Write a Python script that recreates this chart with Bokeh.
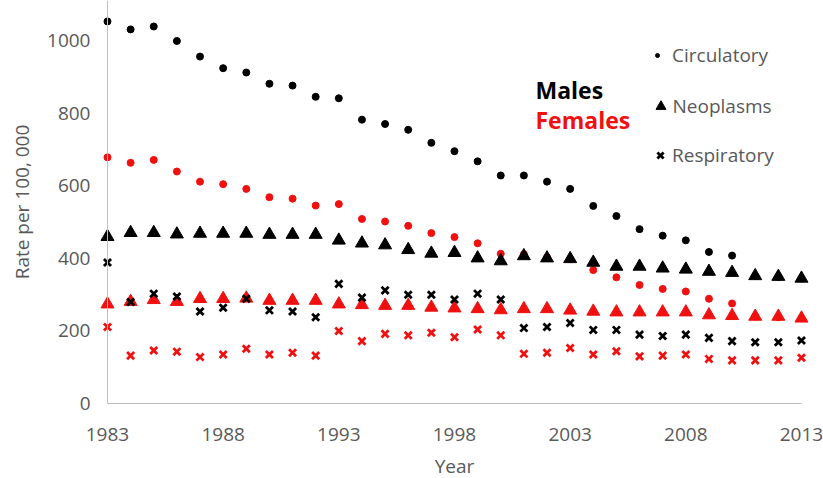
from bokeh.plotting import figure
from bokeh.models import Range1d, FixedTicker, Label, Legend, LegendItem
from bokeh.embed import file_html
from bokeh.resources import INLINE

years = list(range(1983, 2014))

circ_m = [1054, 1032, 1040, 1000, 957, 925, 913, 882, 877, 846, 842,
          783, 771, 755, 719, 696, 668, 629, 629, 612, 592,
          545, 517, 481, 463, 450, 418, 408, 352, 349, 345]
circ_f = [679, 664, 672, 640, 612, 605, 592, 569, 565, 546, 550,
          509, 502, 490, 470, 459, 442, 413, 412, 403, 398,
          368, 348, 327, 316, 309, 289, 276, 240, 238, 235]
neo_m = [460, 471, 471, 467, 469, 469, 469, 466, 466, 466, 450,
         442, 437, 424, 414, 416, 401, 393, 407, 401, 399,
         389, 378, 378, 373, 370, 364, 361, 352, 350, 345]
neo_f = [274, 281, 286, 281, 289, 289, 290, 284, 284, 284, 274,
         272, 270, 270, 265, 263, 261, 258, 261, 261, 257,
         254, 252, 252, 252, 252, 244, 242, 240, 240, 235]
resp_m = [389, 280, 303, 295, 254, 264, 289, 257, 254, 238, 330,
          292, 312, 300, 300, 287, 303, 287, 208, 211, 222,
          203, 203, 190, 186, 190, 181, 172, 169, 169, 174]
resp_f = [211, 132, 146, 143, 128, 135, 151, 135, 140, 132, 200,
          172, 192, 188, 195, 183, 204, 188, 137, 140, 153,
          135, 144, 130, 132, 135, 123, 119, 119, 119, 126]

x_ticks = [1983, 1988, 1993, 1998, 2003, 2008, 2013]
y_ticks = [0, 200, 400, 600, 800, 1000]

BLACK = "#000000"
RED = "#f01010"
GRAY = "#595959"
AXIS_GRAY = "#bfbfbf"
FONT = "Open Sans"

p = figure(width=823, height=478, output_backend="svg", toolbar_location=None,
           x_range=Range1d(1978.375, 2013.952), y_range=Range1d(-206.9, 1111.7),
           min_border_left=0, min_border_right=0, min_border_top=0,
           min_border_bottom=0)
p.outline_line_color = None
p.grid.visible = False
p.background_fill_color = "white"

# x axis fixed at y = 0
xa = p.xaxis[0]
xa.fixed_location = 0
xa.ticker = FixedTicker(ticks=x_ticks)
xa.bounds = (1983, 2013)
xa.axis_line_color = AXIS_GRAY
xa.major_tick_line_color = None
xa.minor_tick_line_color = None
xa.major_tick_out = 0
xa.major_tick_in = 0
xa.minor_tick_out = 0
xa.major_label_text_font = FONT
xa.major_label_text_font_size = "19px"
xa.major_label_text_color = GRAY
xa.major_label_standoff = 25

# y axis fixed at x = 1983
ya = p.yaxis[0]
ya.fixed_location = 1983
ya.ticker = FixedTicker(ticks=y_ticks)
ya.bounds = (0, 1111.7)
ya.axis_line_color = AXIS_GRAY
ya.major_tick_line_color = None
ya.minor_tick_line_color = None
ya.major_tick_out = 0
ya.major_tick_in = 0
ya.minor_tick_out = 0
ya.major_label_text_font = FONT
ya.major_label_text_font_size = "19px"
ya.major_label_text_color = GRAY
ya.major_label_standoff = 17
ya.axis_label = "Rate per 100, 000"
ya.axis_label_text_font = FONT
ya.axis_label_text_font_size = "19px"
ya.axis_label_text_font_style = "normal"
ya.axis_label_text_color = GRAY
ya.axis_label_standoff = 9

# x-axis title
p.add_layout(Label(x=1998, y=-172, text="Year", text_font=FONT,
                   text_font_size="19px", text_color=GRAY,
                   text_align="center", text_baseline="alphabetic"))

# data (drawing order)
p.scatter(years, circ_f, marker="circle", size=7, color=RED)
r_circ = p.scatter(years, circ_m, marker="circle", size=7, color=BLACK)
p.scatter(years, neo_f, marker="triangle", size=13, color=RED)
r_neo = p.scatter(years, neo_m, marker="triangle", size=13, color=BLACK)
p.scatter(years, resp_f, marker="x", size=10, line_color=RED, line_width=2.8)
r_resp = p.scatter(years, resp_m, marker="x", size=10, line_color=BLACK, line_width=2.8)

# legends
def make_legend(label, rend, gw, standoff, loc):
    lg = Legend(items=[LegendItem(label=label, renderers=[rend])],
                location=loc, glyph_width=gw, glyph_height=26,
                label_standoff=standoff, padding=0, margin=0, spacing=0,
                border_line_color=None, background_fill_alpha=0,
                label_text_font=FONT, label_text_font_size="19px",
                label_text_color=GRAY)
    p.add_layout(lg)

make_legend("Circulatory", r_circ, 10, 10, (652, 410))
make_legend("Neoplasms", r_neo, 25, 0, (647.5, 359))
make_legend("Respiratory", r_resp, 22, 1, (649, 310))

p.add_layout(Label(x=2001.5, y=866, text="Males", text_font=FONT,
                   text_font_size="23px", text_font_style="bold",
                   text_color=BLACK, text_baseline="alphabetic"))
p.add_layout(Label(x=2001.5, y=781, text="Females", text_font=FONT,
                   text_font_size="23px", text_font_style="bold",
                   text_color=RED, text_baseline="alphabetic"))

open("out.html", "w").write(file_html(p, INLINE))
